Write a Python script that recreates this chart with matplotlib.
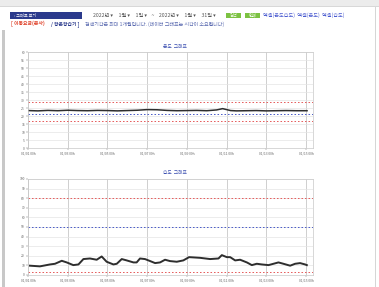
import matplotlib
matplotlib.use("Agg")
import matplotlib.pyplot as plt
from matplotlib.patches import Rectangle

plt.rcParams['font.family'] = ['Noto Sans CJK KR', 'DejaVu Sans']

# ---- data ----
tick_days = [0, 2, 4, 6, 8, 10, 12, 14]
tick_labels = ["01/01 00h", "01/03 00h", "01/05 00h", "01/07 00h",
               "01/09 00h", "01/11 00h", "01/13 00h", "01/15 00h"]

temp_day = [0.0, 0.5, 1.0, 1.5, 2.0, 2.5, 3.0, 3.5, 4.0, 4.5, 5.0, 5.5, 6.0, 6.5,
            7.0, 7.5, 8.0, 8.5, 9.0, 9.5, 9.8, 10.2, 10.5, 11.0, 11.5, 12.0, 12.5,
            13.0, 13.5, 14.05]
temp_val = [23.4, 23.2, 23.5, 23.3, 23.6, 23.4, 23.3, 23.5, 23.4, 23.2, 23.4, 23.6,
            24.0, 23.9, 23.5, 23.3, 23.4, 23.5, 23.3, 23.8, 24.6, 23.4, 23.2, 23.3,
            23.4, 23.2, 23.3, 23.4, 23.3, 23.3]
temp_red = [28.5, 17.0]
temp_blue = [21.5]

hum_day = [0.10, 0.60, 1.11, 1.36, 1.70, 1.95, 2.28, 2.54, 2.79, 3.12, 3.46, 3.71,
           3.96, 4.30, 4.47, 4.72, 4.97, 5.31, 5.47, 5.64, 5.89, 6.15, 6.40, 6.65,
           6.90, 7.15, 7.49, 7.82, 8.11, 8.66, 9.17, 9.59, 9.76, 10.01, 10.18, 10.43,
           10.68, 11.02, 11.27, 11.52, 11.77, 12.11, 12.36, 12.61, 12.86, 13.20,
           13.45, 13.70, 13.95, 14.04]
hum_val = [9.7, 9.0, 11.0, 11.7, 14.8, 13.1, 10.3, 11.0, 16.6, 17.2, 15.9, 19.3,
           13.8, 11.0, 11.7, 16.6, 15.2, 13.1, 13.1, 17.2, 16.6, 14.5, 12.4, 13.1,
           15.9, 14.5, 13.8, 15.2, 18.6, 17.9, 16.6, 17.2, 20.7, 18.6, 18.6, 15.2,
           15.9, 13.1, 10.3, 11.7, 11.0, 10.3, 11.7, 13.1, 11.7, 9.7, 11.7, 12.4,
           11.0, 10.3]
hum_red = [80, 3]
hum_blue = [50]

W, H = 379, 287
fig = plt.figure(figsize=(W / 100, H / 100), dpi=100)
fig.patch.set_facecolor('white')


def px(x, y):
    return x / W, 1 - y / H


def rect(x0, y0, x1, y1, **kw):
    fig.patches.append(Rectangle(px(x0, y1), (x1 - x0) / W, (y1 - y0) / H,
                                 transform=fig.transFigure, **kw))


# page chrome
rect(0, 0, W, 6, facecolor='#ececec', edgecolor='none')
rect(0, 6, W, 7, facecolor='#d8d8d8', edgecolor='none')
rect(2, 30, 4.5, H, facecolor='#c8c8c8', edgecolor='none')
rect(374.5, 7, 375.5, H, facecolor='#d6d6d6', edgecolor='none')

# header row
rect(10, 12.5, 82, 18.5, facecolor='#2b3a8c', edgecolor='none')
fig.text(*px(14, 15.6), "› 그래프 보기", color='white', fontsize=3.0, va='center')
fig.text(*px(93, 15.6), "2022년 ▾     1월 ▾     1일 ▾    ~    2022년 ▾     1월 ▾     31일 ▾",
         color='#555555', fontsize=3.7, va='center')
rect(226, 12.8, 241, 18.3, facecolor='#7cc242', edgecolor='none')
rect(245, 12.8, 260, 18.3, facecolor='#7cc242', edgecolor='none')
fig.text(*px(233.5, 15.6), "검색", color='white', fontsize=3.0, va='center', ha='center')
fig.text(*px(252.5, 15.6), "인쇄", color='white', fontsize=3.0, va='center', ha='center')
fig.text(*px(263, 15.6), "엑셀(온도습도)  엑셀(온도)  엑셀(습도)",
         color='#4a5bd0', fontsize=3.7, va='center')

fig.text(*px(11, 24.3), "[ 이동요금(본사)", color='#e0442c', fontsize=3.5,
         va='center', fontweight='bold')
fig.text(*px(51, 24.3), "/ 항온항습기 ]", color='#2b3a8c', fontsize=3.5,
         va='center', fontweight='bold')
fig.text(*px(85, 24.3), "검색기간은 최대 1개월입니다. (데이터 그래프는 시간이 소요됩니다)",
         color='#5a6ab0', fontsize=3.6, va='center')


def make_axes(top, bottom, title, title_y, days, vals, ymax, ystep,
              reds, blues, lw):
    ax = fig.add_axes([28 / W, 1 - bottom / H, (313 - 28) / W, (bottom - top) / H])
    ax.set_xlim(0, 14.35)
    ax.set_ylim(0, ymax)
    ax.set_yticks(list(range(0, ymax + 1, ystep)))
    ax.set_xticks(tick_days)
    ax.set_xticklabels(tick_labels)
    ax.tick_params(labelsize=2.4, length=1.2, width=0.3, colors='#666666', pad=1)
    ax.grid(axis='y', color='#e4e4e4', lw=0.5)
    ax.grid(axis='x', color='#c8c8c8', lw=0.6)
    for s in ax.spines.values():
        s.set_color('#c8c8c8')
        s.set_linewidth(0.5)
    for r in reds:
        ax.axhline(r, color='#e65c5c', lw=0.7, ls=(0, (1.6, 2.0)))
    for b in blues:
        ax.axhline(b, color='#4a5cc8', lw=0.7, ls=(0, (1.6, 2.0)))
    ax.plot(days, vals, color='#2e2e2e', lw=lw, solid_joinstyle='round')
    fig.text(*px(175, title_y), title, color='#3b4fb0', fontsize=3.4,
             ha='center', va='center')
    return ax


make_axes(52, 148, "온도  그래프", 46.5, temp_day, temp_val, 60, 5,
          temp_red, temp_blue, 1.1)
make_axes(179, 275, "습도  그래프", 172.5, hum_day, hum_val, 100, 10,
          hum_red, hum_blue, 1.4)

fig.savefig("out.png", dpi=100)
